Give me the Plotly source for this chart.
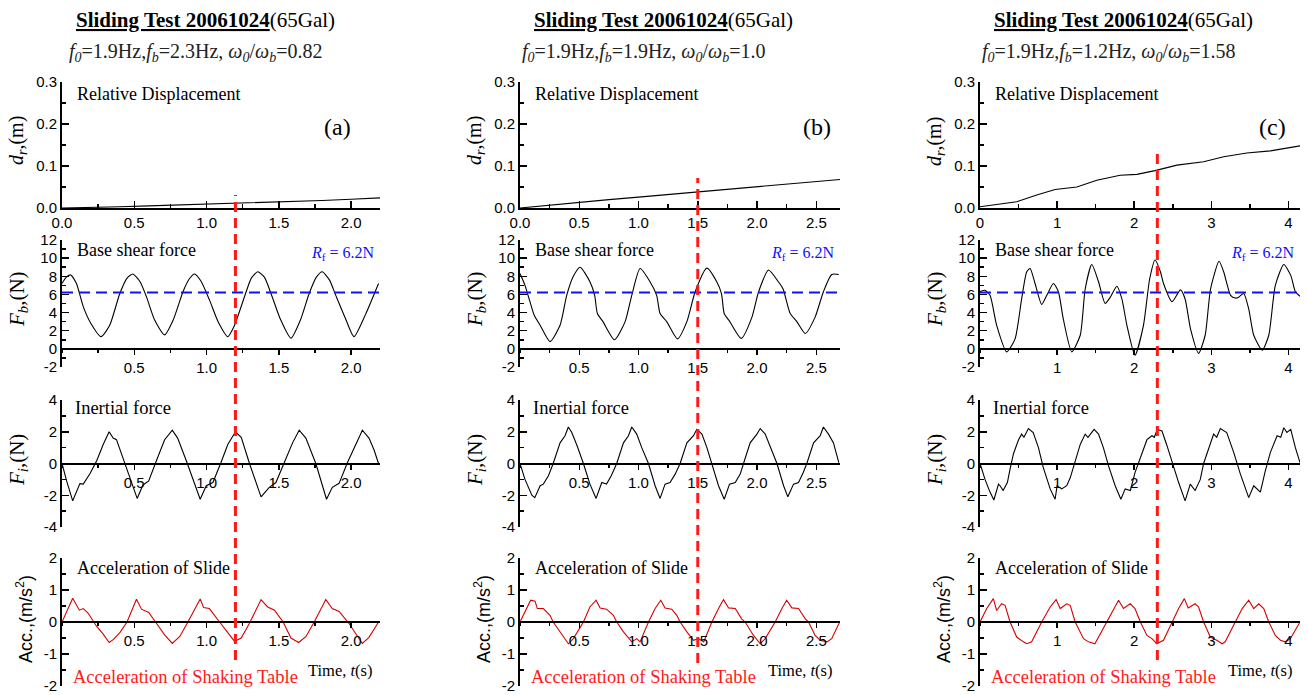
import plotly.graph_objects as go

# ----------------------------- data -----------------------------
x_max = [2.2, 2.7, 4.15]
cut_times = [1.2, 1.5, 2.3]
Rf = 6.2
f0 = "1.9"
fb_freq = ["2.3", "1.9", "1.2"]
ratio = ["0.82", "1.0", "1.58"]
panel_tags = ["(a)", "(b)", "(c)"]

# column (a)
disp_a_t = [0.0, 0.2, 0.4, 0.6, 0.8, 1.0, 1.2, 1.4, 1.6, 1.8, 2.0, 2.2]
disp_a = [0.0, 0.001, 0.003, 0.005, 0.007, 0.009, 0.011, 0.014, 0.016, 0.018, 0.021, 0.024]
fb_a_t = [0.0, 0.03, 0.06, 0.10, 0.147, 0.20, 0.27, 0.33, 0.40, 0.45, 0.49, 0.54, 0.584, 0.64,
          0.71, 0.77, 0.837, 0.88, 0.917, 0.96, 1.02, 1.08, 1.147, 1.19, 1.27, 1.31, 1.354, 1.40,
          1.446, 1.51, 1.584, 1.65, 1.71, 1.76, 1.80, 1.85, 1.894, 1.96, 2.02, 2.10, 2.19]
fb_a = [7.2, 7.9, 8.15, 7.2, 4.66, 2.8, 1.35, 2.6, 6.1, 7.8, 8.26, 7.4, 5.76, 3.2,
        1.54, 3.2, 6.3, 7.7, 8.26, 7.5, 5.4, 3.0, 1.35, 2.46, 6.1, 7.8, 8.5, 7.9,
        6.1, 3.3, 1.17, 3.2, 6.1, 7.9, 8.5, 7.6, 5.9, 3.4, 1.35, 3.8, 7.2]
fi_a_t = [0.0, 0.032, 0.074, 0.124, 0.147, 0.193, 0.24, 0.285, 0.326, 0.354, 0.377, 0.434, 0.52,
          0.56, 0.60, 0.653, 0.71, 0.763, 0.80, 0.86, 0.956, 0.998, 1.044, 1.10, 1.147, 1.20,
          1.24, 1.297, 1.377, 1.434, 1.48, 1.538, 1.595, 1.641, 1.687, 1.756, 1.83, 1.87, 1.917,
          1.975, 2.033, 2.078, 2.124, 2.159, 2.19]
fi_a = [0.0, -1.1, -2.35, -1.27, -1.3, -0.65, 0.17, 1.2, 2.0, 1.6, 1.5, 0.0, -2.2,
        -1.35, -1.1, 0.17, 1.5, 2.1, 1.6, 0.17, -2.25, -1.4, -1.2, 0.06, 1.2, 2.0,
        1.65, 0.0, -2.1, -1.5, -1.2, 0.06, 1.3, 2.1, 1.6, 0.0, -2.25, -1.5, -1.25,
        0.06, 1.2, 2.1, 1.6, 0.85, 0.0]
acc_a_t = [0.0, 0.074, 0.12, 0.147, 0.18, 0.24, 0.285, 0.326, 0.354, 0.40, 0.45, 0.515, 0.55,
           0.60, 0.653, 0.71, 0.763, 0.815, 0.871, 0.956, 0.98, 1.02, 1.09, 1.147, 1.193, 1.24,
           1.297, 1.377, 1.423, 1.47, 1.53, 1.584, 1.637, 1.687, 1.745, 1.825, 1.87, 1.917,
           1.985, 2.03, 2.078, 2.124, 2.19]
acc_a = [0.0, 0.74, 0.37, 0.42, 0.28, -0.14, -0.38, -0.64, -0.55, -0.33, 0.0, 0.71, 0.4,
         0.3, -0.04, -0.4, -0.67, -0.45, 0.0, 0.72, 0.45, 0.42, 0.0, -0.35, -0.6, -0.5,
         -0.04, 0.7, 0.47, 0.37, 0.0, -0.5, -0.64, -0.46, 0.0, 0.7, 0.42, 0.33,
         -0.04, -0.35, -0.67, -0.48, 0.0]

# column (b)
disp_b_t = [0.0, 0.25, 0.5, 0.75, 1.0, 1.25, 1.5, 1.75, 2.0, 2.25, 2.5, 2.7]
disp_b = [0.0, 0.007, 0.014, 0.02, 0.026, 0.032, 0.038, 0.045, 0.051, 0.057, 0.063, 0.068]
fb_b_t = [0.0, 0.042, 0.084, 0.12, 0.17, 0.253, 0.338, 0.394, 0.45, 0.507, 0.59, 0.63, 0.653,
          0.70, 0.797, 0.887, 0.943, 1.013, 1.097, 1.153, 1.182, 1.238, 1.329, 1.408, 1.478,
          1.577, 1.66, 1.70, 1.723, 1.77, 1.867, 1.957, 2.013, 2.097, 2.18, 2.22, 2.25, 2.28,
          2.336, 2.407, 2.49, 2.56, 2.63, 2.69]
fb_b = [8.3, 7.0, 5.2, 3.7, 2.6, 0.8, 2.6, 5.9, 8.0, 9.0, 7.4, 5.9, 3.9,
        3.0, 1.0, 3.0, 5.9, 8.85, 7.4, 5.9, 3.9, 3.0, 1.1, 3.0, 6.3,
        8.9, 7.4, 6.1, 3.9, 3.0, 1.15, 3.5, 6.3, 8.7, 7.4, 6.6, 5.2, 3.9,
        3.0, 1.7, 3.5, 6.3, 8.2, 8.2]
fi_b_t = [0.0, 0.042, 0.1, 0.125, 0.17, 0.197, 0.24, 0.28, 0.338, 0.38, 0.408, 0.437, 0.48,
          0.535, 0.59, 0.642, 0.69, 0.73, 0.77, 0.816, 0.873, 0.915, 0.943, 0.985, 1.027,
          1.084, 1.14, 1.182, 1.224, 1.266, 1.309, 1.351, 1.408, 1.464, 1.492, 1.535, 1.577,
          1.619, 1.675, 1.723, 1.768, 1.816, 1.858, 1.886, 1.942, 1.999, 2.027, 2.069, 2.125,
          2.168, 2.224, 2.26, 2.308, 2.35, 2.39, 2.42, 2.477, 2.533, 2.56, 2.603, 2.645, 2.69]
fi_b = [0.0, -1.0, -2.0, -2.15, -1.4, -1.3, -0.77, 0.0, 1.3, 1.75, 2.3, 1.95, 1.15,
        0.0, -1.3, -2.2, -1.2, -1.3, -0.77, 0.0, 1.3, 1.75, 2.3, 1.85, 1.0,
        0.0, -1.4, -2.2, -1.3, -1.2, -0.67, 0.0, 1.3, 1.75, 2.15, 1.85, 1.0,
        0.0, -1.4, -2.25, -1.3, -1.2, -0.67, 0.0, 1.3, 1.85, 2.2, 1.85, 0.8,
        0.0, -1.4, -2.1, -1.3, -1.2, -0.57, 0.0, 1.3, 1.75, 2.3, 1.85, 1.3, 0.05]
acc_b_t = [0.0, 0.062, 0.09, 0.127, 0.146, 0.197, 0.253, 0.28, 0.338, 0.408, 0.45, 0.535,
           0.59, 0.642, 0.676, 0.73, 0.788, 0.816, 0.873, 0.943, 0.985, 1.013, 1.084, 1.14,
           1.188, 1.224, 1.28, 1.323, 1.351, 1.408, 1.464, 1.506, 1.55, 1.619, 1.675, 1.717,
           1.76, 1.816, 1.87, 1.9, 1.97, 2.027, 2.069, 2.153, 2.21, 2.25, 2.294, 2.35, 2.407,
           2.435, 2.49, 2.533, 2.59, 2.63, 2.697]
acc_b = [0.0, 0.47, 0.68, 0.65, 0.42, 0.42, 0.21, 0.0, -0.31, -0.68, -0.52, 0.0,
         0.47, 0.68, 0.44, 0.4, 0.21, 0.0, -0.31, -0.62, -0.52, -0.62, 0.0, 0.42,
         0.68, 0.44, 0.4, 0.21, 0.0, -0.31, -0.57, -0.52, -0.62, 0.0, 0.42, 0.7,
         0.44, 0.42, 0.1, 0.0, -0.42, -0.68, -0.52, 0.0, 0.42, 0.68, 0.44, 0.42, 0.1,
         0.0, -0.42, -0.57, -0.62, -0.52, 0.0]

# column (c)
disp_c_t = [0.0, 0.476, 0.736, 0.974, 1.256, 1.515, 1.818, 2.035, 2.27, 2.554, 2.9, 3.16,
            3.46, 3.766, 4.15]
disp_c = [0.003, 0.015, 0.031, 0.044, 0.05, 0.066, 0.078, 0.080, 0.089, 0.102, 0.11, 0.122,
          0.131, 0.136, 0.148]
fb_c_t = [0.0, 0.065, 0.13, 0.216, 0.346, 0.455, 0.54, 0.606, 0.65, 0.714, 0.8, 0.866, 0.952,
          1.017, 1.08, 1.19, 1.3, 1.364, 1.45, 1.537, 1.623, 1.69, 1.775, 1.84, 1.905, 2.01,
          2.12, 2.2, 2.27, 2.34, 2.38, 2.49, 2.6, 2.66, 2.73, 2.835, 2.92, 2.99, 3.1, 3.16,
          3.25, 3.31, 3.355, 3.42, 3.485, 3.55, 3.66, 3.745, 3.83, 3.94, 4.03, 4.09, 4.15]
fb_c = [6.3, 6.45, 5.9, 2.6, -0.33, 1.1, 5.5, 8.5, 8.85, 7.2, 4.9, 5.9, 7.2,
        6.3, 3.3, -0.33, 1.5, 6.6, 9.3, 7.4, 5.0, 5.7, 6.9, 5.5, 2.6, -0.7,
        2.6, 7.7, 9.8, 8.5, 7.2, 5.2, 6.5, 5.5, 2.2, -0.5, 1.5, 6.6, 9.65, 8.5,
        5.9, 5.6, 5.7, 6.1, 4.4, 1.5, -0.15, 1.5, 7.0, 9.3, 8.1, 6.3, 5.8]
fi_c_t = [0.0, 0.065, 0.13, 0.18, 0.24, 0.26, 0.3, 0.355, 0.39, 0.433, 0.5, 0.54, 0.57, 0.628,
          0.69, 0.758, 0.82, 0.91, 0.974, 1.0, 1.06, 1.125, 1.17, 1.234, 1.3, 1.364, 1.4,
          1.48, 1.537, 1.6, 1.667, 1.753, 1.827, 1.883, 1.95, 2.01, 2.08, 2.165, 2.23, 2.26,
          2.3, 2.36, 2.42, 2.49, 2.576, 2.66, 2.727, 2.79, 2.857, 2.9, 2.965, 3.03, 3.07,
          3.117, 3.2, 3.29, 3.377, 3.485, 3.55, 3.636, 3.7, 3.766, 3.853, 3.9, 3.94, 3.98,
          4.03, 4.09, 4.15]
fi_c = [0.0, -1.0, -1.8, -2.3, -1.3, -1.4, -1.7, -1.2, -0.36, 0.6, 1.5, 1.85, 1.65, 2.2,
        1.95, 1.0, -0.25, -1.6, -2.25, -1.4, -1.6, -1.4, -0.9, 0.17, 1.2, 1.85, 1.65,
        2.15, 1.85, 1.0, -0.15, -1.4, -2.25, -1.6, -1.7, -0.57, 0.38, 1.5, 1.75, 1.65,
        2.15, 2.05, 1.2, 0.06, -1.2, -2.35, -1.3, -1.7, -1.0, 0.0, 1.0, 1.85, 1.65,
        2.2, 1.95, 0.7, -0.67, -2.15, -1.4, -1.8, -0.46, 0.7, 1.75, 1.65, 2.25, 1.95,
        2.15, 1.0, 0.06]
acc_c_t = [0.0, 0.087, 0.173, 0.216, 0.28, 0.325, 0.39, 0.476, 0.563, 0.606, 0.67, 0.8, 0.91,
           0.987, 1.04, 1.125, 1.17, 1.234, 1.342, 1.407, 1.49, 1.645, 1.73, 1.797, 1.86,
           1.948, 2.01, 2.08, 2.165, 2.23, 2.27, 2.29, 2.38, 2.49, 2.576, 2.65, 2.7, 2.79,
           2.835, 2.9, 2.987, 3.07, 3.14, 3.18, 3.31, 3.4, 3.485, 3.55, 3.615, 3.68, 3.745,
           3.83, 3.896, 3.96, 4.026, 4.15]
acc_c = [0.0, 0.42, 0.73, 0.36, 0.57, 0.52, 0.0, -0.47, -0.62, -0.68, -0.62, 0.0, 0.47,
         0.7, 0.42, 0.57, 0.52, 0.0, -0.52, -0.62, -0.68, 0.0, 0.42, 0.68, 0.42,
         0.57, 0.42, 0.0, -0.42, -0.52, -0.62, -0.68, -0.57, 0.0, 0.42, 0.73, 0.44, 0.57,
         0.47, 0.0, -0.47, -0.57, -0.68, -0.62, 0.0, 0.42, 0.68, 0.42, 0.57, 0.42, 0.0,
         -0.42, -0.57, -0.62, -0.52, 0.0]

series = [
    [(disp_a_t, disp_a), (fb_a_t, fb_a), (fi_a_t, fi_a), (acc_a_t, acc_a)],
    [(disp_b_t, disp_b), (fb_b_t, fb_b), (fi_b_t, fi_b), (acc_b_t, acc_b)],
    [(disp_c_t, disp_c), (fb_c_t, fb_c), (fi_c_t, fi_c), (acc_c_t, acc_c)],
]

# ----------------------------- layout -----------------------------
W, H = 1308, 695
col_left = [62, 520, 980]
col_right = [380, 840, 1300]
row_top = [82, 240, 400, 558]
row_bot = [208, 367, 527, 686]
y_ranges = [(0.0, 0.3), (-2, 12), (-4, 4), (-2, 2)]
y_dtick = [0.1, 2, 2, 1]
y_minor = [0.05, 1, 1, 0.5]
x_dtick = [0.5, 0.5, 1.0]
x_minor = [0.25, 0.25, 0.5]

SANS = "Liberation Sans"
SERIF = "Liberation Serif"


def fx(px):
    return px / W


def fy(py):
    return 1 - py / H


def frange(a, b, step):
    n = int(round((b - a) / step))
    return [round(a + i * step, 6) for i in range(n + 1)]


def fmt(v, decimals):
    return f"{v:.{decimals}f}"


fig = go.Figure()
layout = {}
shapes = []
annotations = []

for c in range(3):
    for r in range(4):
        k = r * 3 + c + 1
        xid = "x" if k == 1 else f"x{k}"
        yid = "y" if k == 1 else f"y{k}"
        xkey = "xaxis" if k == 1 else f"xaxis{k}"
        ykey = "yaxis" if k == 1 else f"yaxis{k}"
        ymin, ymax = y_ranges[r]
        ydom = [fy(row_bot[r]), fy(row_top[r])]
        xdom = [fx(col_left[c]), fx(col_right[c])]

        t, v = series[c][r]
        color = "#d40000" if r == 3 else "black"
        fig.add_trace(go.Scatter(
            x=t, y=v, mode="lines", xaxis=xid, yaxis=yid, showlegend=False,
            line=dict(color=color, width=1.1, shape="spline" if r == 1 else "linear",
                      smoothing=0.6),
            hoverinfo="skip"))
        if r == 1:
            fig.add_trace(go.Scatter(
                x=[0, x_max[c]], y=[Rf, Rf], mode="lines", xaxis=xid, yaxis=yid,
                showlegend=False, hoverinfo="skip",
                line=dict(color="#1010ff", width=2, dash="11px,6px")))

        # y axis
        yvals = frange(ymin, ymax, y_dtick[r])
        ydec = 1 if r == 0 else 0
        layout[ykey] = dict(
            domain=ydom, range=[ymin, ymax], anchor=xid, automargin=False,
            tickmode="array", tickvals=yvals, ticktext=[fmt(vv, ydec) for vv in yvals],
            ticks="inside", ticklen=7, tickwidth=1.5, tickcolor="black",
            minor=dict(tickmode="linear", tick0=ymin, dtick=y_minor[r], ticks="inside",
                       ticklen=4, tickwidth=1.5, tickcolor="black"),
            showline=True, linewidth=2, linecolor="black", mirror=False,
            showgrid=False, zeroline=False,
            tickfont=dict(family=SANS, size=15, color="black"), fixedrange=True)

        # x axis
        xdec = 0 if c == 2 else 1
        all_x = frange(0, x_max[c] - (x_max[c] % x_dtick[c]), x_dtick[c])
        xvals = all_x if r == 0 else [vv for vv in all_x if vv != 0]
        xticktext = [fmt(vv, xdec) for vv in xvals]
        minor_x = dict(tickmode="linear", tick0=0, dtick=x_minor[c],
                       ticklen=4, tickwidth=1.5, tickcolor="black")
        xa = dict(domain=xdom, range=[0, x_max[c]], showgrid=False, zeroline=False,
                  showline=True, linewidth=2, linecolor="black", automargin=False,
                  tickmode="array", tickvals=xvals, ticktext=xticktext,
                  tickwidth=1.5, tickcolor="black",
                  tickfont=dict(family=SANS, size=15, color="black"), fixedrange=True)
        if r == 0:
            xa.update(anchor=yid, ticks="inside", ticklen=7,
                      minor=dict(minor_x, ticks="inside"))
        else:
            pos = ydom[0] + (0 - ymin) / (ymax - ymin) * (ydom[1] - ydom[0])
            xa.update(anchor="free", position=pos, ticks="outside", ticklen=5,
                      minor=dict(minor_x, ticks="outside", ticklen=3))
            # companion axis for the upward half of the crossing ticks
            layout[f"xaxis{12 + k}"] = dict(
                domain=xdom, range=[0, x_max[c]], overlaying=xid, anchor="free",
                position=pos, showgrid=False, zeroline=False, showline=False,
                automargin=False,
                tickmode="array", tickvals=xvals, ticks="inside", ticklen=5,
                tickwidth=1.5, tickcolor="black", showticklabels=False,
                minor=dict(minor_x, ticks="inside", ticklen=4), fixedrange=True)
        layout[xkey] = xa

    # red dashed marker line through the column
    shapes.append(dict(
        type="line", xref="x" if c == 0 else f"x{c + 1}", yref="paper",
        x0=cut_times[c], x1=cut_times[c],
        y0=fy([660, 663, 660][c]), y1=fy([195, 178, 150][c]),
        line=dict(color="#ff1a1a", width=3, dash="10px,6px"), layer="above"))

    L, R = col_left[c], col_right[c]

    def ann(text, xp, yp, size, family=SERIF, color="black", xanchor="left",
            yanchor="middle", angle=0):
        annotations.append(dict(
            text=text, x=fx(xp), y=fy(yp), xref="paper", yref="paper",
            xanchor=xanchor, yanchor=yanchor, showarrow=False, textangle=angle,
            font=dict(family=family, size=size, color=color)))

    ann("<b><u>Sliding Test 20061024</u></b>(65Gal)", L + 143, 20, 21, xanchor="center")
    ann(f"<i>f</i><sub><i>0</i></sub>={f0}Hz,<i>f</i><sub><i>b</i></sub>={fb_freq[c]}Hz, "
        f"<i>ω</i><sub><i>0</i></sub>/<i>ω</i><sub><i>b</i></sub>={ratio[c]}",
        [67, 520, 980][c], 52, 20, color="#222222")
    ann("Relative Displacement", L + 13, 94, 18)
    ann(panel_tags[c], [337, 817, 1272][c], 127, 24, xanchor="center")
    ann("Base shear force", L + 13, 250, 18)
    ann(f"<i>R</i><sub>f</sub> = {Rf}N", R - 3, 253, 16, color="#1010ff", xanchor="right")
    ann("Inertial force", L + 11, 408, 18.5)
    ann("Acceleration of Slide", L + 13, 568, 18)
    ann("Acceleration of Shaking Table", L + 9, 677, 18.5, color="#ff1a1a")
    ann("Time, <i>t</i>(s)", R - 5, 670, 16.5, xanchor="right")

    ann("<i>d</i><sub><i>r</i></sub>,(m)", L - 45, 141, 20, xanchor="center", angle=-90)
    ann("<i>F</i><sub><i>b</i></sub>,(N)", L - 44, 299, 21, xanchor="center", angle=-90)
    ann("<i>F</i><sub><i>i</i></sub>,(N)", L - 44, 460, 21, xanchor="center", angle=-90)
    ann("Acc.,(m/s<sup>2</sup>)", L - 38, 619, 18, family=SANS, xanchor="center", angle=-90)

layout.update(
    width=W, height=H, margin=dict(l=0, r=0, t=0, b=0, autoexpand=False),
    paper_bgcolor="white", plot_bgcolor="rgba(0,0,0,0)",
    shapes=shapes, annotations=annotations, showlegend=False,
)
fig.update_layout(**layout)
# the page's default 8px body margin would shift the 1308x695 figure; remove it
fig.write_html("out.html",
               config={"displayModeBar": False, "staticPlot": True},
               post_script="document.body.style.margin='0';"
                           "document.body.style.overflow='hidden';")
